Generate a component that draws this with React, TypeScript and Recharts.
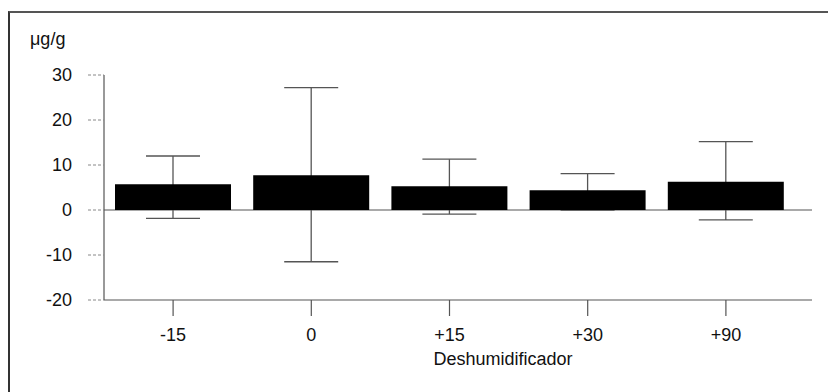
import React from 'react';
import { BarChart, Bar, XAxis, YAxis, ErrorBar, ReferenceLine } from 'recharts';

const categories = ['-15', '0', '+15', '+30', '+90'];
const means = [5.7, 7.7, 5.3, 4.4, 6.3];
const lowerBounds = [-1.85, -11.5, -0.9, 0, -2.2];
const upperBounds = [12.0, 27.2, 11.3, 8.1, 15.2];
const yTicks = [-20, -10, 0, 10, 20, 30];

const data = categories.map((c, i) => ({
  cat: c,
  value: means[i],
  err: [means[i] - lowerBounds[i], upperBounds[i] - means[i]],
}));

const FONT = '"Liberation Sans", Arial, sans-serif';

export default function App() {
  return (
    <div style={{ position: 'absolute', left: 0, top: 0, width: 828, height: 392, background: '#fff', fontFamily: FONT }}>
      <div style={{ position: 'absolute', left: 8, top: 11, right: 0, bottom: 0, borderLeft: '2px solid #333', borderTop: '2px solid #555' }} />
      <div style={{ position: 'absolute', left: 0, top: 0 }}>
        <BarChart
          width={828}
          height={392}
          data={data}
          margin={{ top: 75, right: 16, bottom: 0, left: 0 }}
          barCategoryGap={11}
        >
          <XAxis
            xAxisId="a"
            dataKey="cat"
            height={92}
            padding={{ left: 0, right: 17 }}
            axisLine={{ stroke: '#555', strokeWidth: 1.2 }}
            tickLine={{ stroke: '#555', strokeWidth: 1.2 }}
            tickSize={16}
            tickMargin={12}
            tick={{ fill: '#111', fontSize: 18, fontFamily: FONT }}
            label={{ value: 'Deshumidificador', position: 'insideBottom', offset: 27, dx: 45, fill: '#111', fontSize: 18, fontFamily: FONT }}
          />
          <XAxis
            xAxisId="b"
            dataKey="cat"
            height={0}
            hide
            padding={{ left: 0, right: 17 }}
          />
          <YAxis
            domain={[-20, 30]}
            ticks={yTicks}
            interval={0}
            width={104}
            axisLine={{ stroke: '#555', strokeWidth: 1.2 }}
            tickLine={{ stroke: '#888', strokeWidth: 1, strokeDasharray: '3 2' }}
            tickSize={16}
            tickMargin={16}
            tick={{ fill: '#111', fontSize: 18, fontFamily: FONT }}
            label={() => (
              <text x={30} y={45} fill="#111" fontSize={18} fontFamily={FONT}>μg/g</text>
            )}
          />
          <ReferenceLine xAxisId="a" y={0} stroke="#555" strokeWidth={1.2} />
          <Bar xAxisId="a" dataKey="value" fill="none" isAnimationActive={false} zIndex={100}>
            <ErrorBar dataKey="err" width={27} stroke="#555" strokeWidth={1.3} direction="y" zIndex={100} />
          </Bar>
          <Bar xAxisId="b" dataKey="value" fill="#000" isAnimationActive={false} zIndex={450} />
        </BarChart>
      </div>
    </div>
  );
}
